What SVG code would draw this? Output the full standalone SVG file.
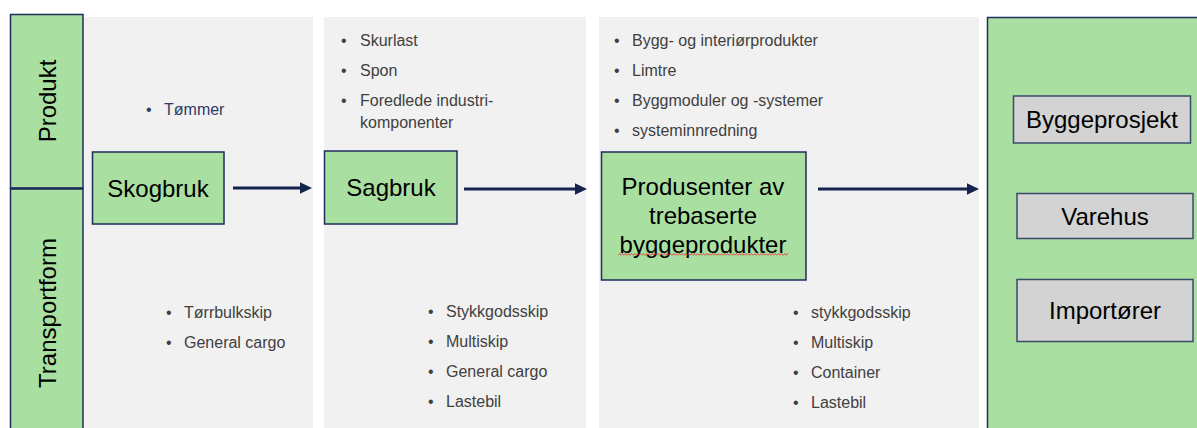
<svg xmlns="http://www.w3.org/2000/svg" width="1197" height="428" viewBox="0 0 1197 428">
<defs>
<style>
.panel{fill:#f1f1f1}
.green{fill:#a9dfa1;stroke:#1f2d5c;stroke-width:1.5}
.gray{fill:#d3d3d3;stroke:#3b4a6b;stroke-width:1.5}
.big{font-family:"Liberation Sans",Arial,sans-serif;font-size:24px;fill:#000;text-anchor:middle}
.li{font-family:"Liberation Sans",Arial,sans-serif;font-size:16px;fill:#404040}
.blue{fill:#2e3a66}
.conn{stroke:#14244f;stroke-width:3;fill:none}
</style>
<marker id="ah" markerWidth="4" markerHeight="3.8" refX="0" refY="1.9" orient="auto" markerUnits="strokeWidth">
<path d="M0,0 L4,1.9 L0,3.8 Z" fill="#14244f"/>
</marker>
<pattern id="wave" x="618" y="253" width="3" height="3" patternUnits="userSpaceOnUse">
<polyline points="0,2.5 1.5,0.5 3,2.5" fill="none" stroke="#e03030" stroke-width="0.8"/>
</pattern>
</defs>
<rect width="1197" height="428" fill="#ffffff"/>
<g id="panels">
<rect class="panel" x="84" y="17" width="229" height="411"/>
<rect class="panel" x="324" y="17" width="262" height="411"/>
<rect class="panel" x="599" y="17" width="380" height="411"/>
</g>
<g id="rowlabels">
<rect class="green" x="10.5" y="14.5" width="72.5" height="174"/>
<rect class="green" x="10.5" y="188.5" width="72.5" height="245"/>
<line x1="10" y1="188.5" x2="83" y2="188.5" stroke="#1f2d5c" stroke-width="2.5"/>
<text class="big" transform="translate(56,101) rotate(-90)">Produkt</text>
<text class="big" transform="translate(56,313) rotate(-90)">Transportform</text>
</g>
<g id="markets">
<rect x="987.5" y="17.5" width="215" height="420" fill="#a9dfa1" stroke="#1f2d5c" stroke-width="1.5"/>
</g>
<g id="connectors">
<line class="conn" x1="233" y1="188" x2="300" y2="188" marker-end="url(#ah)"/>
<line class="conn" x1="464" y1="189" x2="575" y2="189" marker-end="url(#ah)"/>
<line class="conn" x1="818" y1="189" x2="967" y2="189" marker-end="url(#ah)"/>
</g>
<g id="skogbruk">
<rect class="green" x="92.5" y="152" width="131.5" height="72"/>
<text class="big" x="158" y="197">Skogbruk</text>
</g>
<g id="sagbruk">
<rect class="green" x="324.5" y="151" width="132.5" height="73"/>
<text class="big" x="391" y="196">Sagbruk</text>
</g>
<g id="produsenter">
<rect class="green" x="601.5" y="152" width="204.5" height="128"/>
<text class="big" x="703" y="195">Produsenter av</text>
<text class="big" x="703" y="224">trebaserte</text>
<text class="big" x="703" y="253">byggeprodukter</text>
<rect x="618" y="253" width="170" height="3" fill="url(#wave)"/>
</g>
<g id="byggeprosjekt">
<rect class="gray" x="1013.5" y="96" width="177" height="47"/>
<text class="big" x="1102" y="128">Byggeprosjekt</text>
</g>
<g id="varehus">
<rect class="gray" x="1017" y="193.5" width="176" height="45"/>
<text class="big" x="1105" y="225">Varehus</text>
</g>
<g id="importorer">
<rect class="gray" x="1017" y="279.5" width="176" height="62"/>
<text class="big" x="1105" y="319">Importører</text>
</g>
<g id="lists">
<text class="li blue"><tspan x="146" y="115">•</tspan><tspan x="164" y="115">Tømmer</tspan></text>
<text class="li"><tspan x="166" y="318">•</tspan><tspan x="184" y="318">Tørrbulkskip</tspan><tspan x="166" y="348">•</tspan><tspan x="184" y="348">General cargo</tspan></text>
<text class="li"><tspan x="341" y="46">•</tspan><tspan x="360" y="46">Skurlast</tspan><tspan x="341" y="76">•</tspan><tspan x="360" y="76">Spon</tspan><tspan x="341" y="106">•</tspan><tspan x="360" y="106">Foredlede industri-</tspan><tspan x="360" y="128">komponenter</tspan></text>
<text class="li"><tspan x="428" y="317">•</tspan><tspan x="446" y="317">Stykkgodsskip</tspan><tspan x="428" y="347">•</tspan><tspan x="446" y="347">Multiskip</tspan><tspan x="428" y="377">•</tspan><tspan x="446" y="377">General cargo</tspan><tspan x="428" y="407">•</tspan><tspan x="446" y="407">Lastebil</tspan></text>
<text class="li"><tspan x="614" y="46">•</tspan><tspan x="632" y="46">Bygg- og interiørprodukter</tspan><tspan x="614" y="76">•</tspan><tspan x="632" y="76">Limtre</tspan><tspan x="614" y="106">•</tspan><tspan x="632" y="106">Byggmoduler og -systemer</tspan><tspan x="614" y="136">•</tspan><tspan x="632" y="136">systeminnredning</tspan></text>
<text class="li"><tspan x="793" y="318">•</tspan><tspan x="811" y="318">stykkgodsskip</tspan><tspan x="793" y="348">•</tspan><tspan x="811" y="348">Multiskip</tspan><tspan x="793" y="378">•</tspan><tspan x="811" y="378">Container</tspan><tspan x="793" y="408">•</tspan><tspan x="811" y="408">Lastebil</tspan></text>
</g>
</svg>
